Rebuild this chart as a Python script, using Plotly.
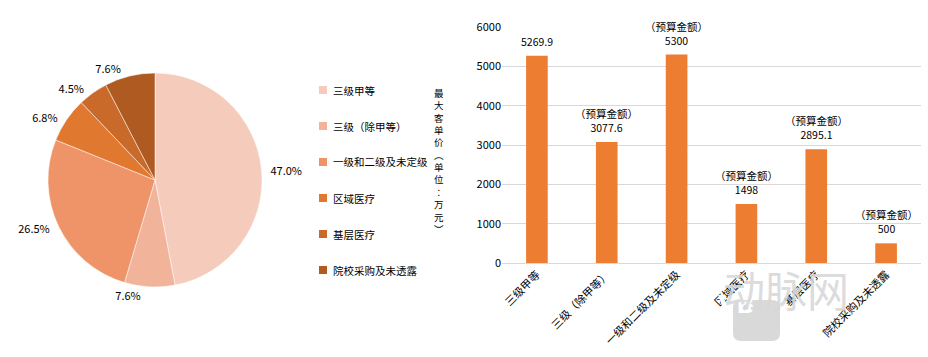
import plotly.graph_objects as go

# ---- data ----
categories = ["三级甲等", "三级（除甲等）", "一级和二级及未定级", "区域医疗", "基层医疗", "院校采购及未透露"]
share_pct = [47.0, 7.6, 26.5, 6.8, 4.5, 7.6]
max_price = [5269.9, 3077.6, 5300, 1498, 2895.1, 500]
price_note = ["", "（预算金额）", "（预算金额）", "（预算金额）", "（预算金额）", "（预算金额）"]
y_ticks = [0, 1000, 2000, 3000, 4000, 5000, 6000]
axis_title = "最大客单价︵单位︰万元︶"

pie_colors = ["#F5CBBC", "#F2B39B", "#EF9468", "#E0782F", "#C96A2A", "#AE5A20"]
bar_color = "#ED7D31"
FONT = "Noto Sans CJK SC"
W, H = 928, 357

fig = go.Figure()

fig.add_trace(go.Pie(
    labels=categories, values=share_pct, sort=False, direction="clockwise", rotation=0,
    marker=dict(colors=pie_colors, line=dict(color="white", width=0.5)),
    texttemplate="\u00a0\u00a0%{value:.1f}%\u00a0\u00a0", textposition="outside",
    textfont=dict(family=FONT, size=11, color="#000"),
    domain=dict(x=[48 / W, 262 / W], y=[1 - 287 / H, 1 - 73 / H]),
    showlegend=False, hoverinfo="label+percent", automargin=False,
))

fig.add_trace(go.Bar(
    x=categories, y=max_price, marker_color=bar_color,
    xaxis="x", yaxis="y", showlegend=False, width=0.31, hoverinfo="x+y",
))

# value labels above bars
for c, v, n in zip(categories, max_price, price_note):
    fig.add_annotation(x=c, y=v, xref="x", yref="y", yanchor="bottom", yshift=6,
                       text=(n + "<br>" if n else "") + f"{v:g}", showarrow=False,
                       borderpad=0, font=dict(family=FONT, size=10.5, color="#000"))

# manual legend built from categories/colors
legend_top = 90
legend_step = 36
for i, (c, col) in enumerate(zip(categories, pie_colors)):
    yc = legend_top + i * legend_step
    fig.add_shape(type="rect", xref="paper", yref="paper",
                  x0=319 / W, x1=327 / W, y0=1 - (yc + 4) / H, y1=1 - (yc - 4) / H,
                  fillcolor=col, line=dict(width=0))
    fig.add_annotation(text=c, xref="paper", yref="paper", x=331 / W, y=1 - yc / H,
                       xanchor="left", yanchor="middle", showarrow=False,
                       font=dict(family=FONT, size=10.5, color="#000"))

fig.add_annotation(text="<br>".join(list(axis_title)), xref="paper", yref="paper",
                   x=439 / W, y=1 - 161 / H, xanchor="center", yanchor="middle",
                   showarrow=False, font=dict(family=FONT, size=9.5, color="#000"))

# watermark (drawn above the tick labels, as in the reference)
x0, x1, y0, y1, r = 733, 780, 300, 341, 8
fig.add_shape(type="path", xref="paper", yref="paper", layer="above",
              path=(f"M {(x0+r)/W},{1-y0/H} L {(x1-r)/W},{1-y0/H} Q {x1/W},{1-y0/H} {x1/W},{1-(y0+r)/H} "
                    f"L {x1/W},{1-(y1-r)/H} Q {x1/W},{1-y1/H} {(x1-r)/W},{1-y1/H} L {(x0+r)/W},{1-y1/H} "
                    f"Q {x0/W},{1-y1/H} {x0/W},{1-(y1-r)/H} L {x0/W},{1-(y0+r)/H} Q {x0/W},{1-y0/H} {(x0+r)/W},{1-y0/H} Z"),
              fillcolor="#D9D9D9", line=dict(width=0))
fig.add_annotation(text="<b>VB</b>", xref="paper", yref="paper", x=756.5 / W, y=1 - 320.5 / H,
                   showarrow=False, font=dict(family="DejaVu Sans", size=24, color="white"))
fig.add_annotation(text="动脉网", xref="paper", yref="paper", x=851 / W, y=1 - 321 / H,
                   showarrow=False, font=dict(family=FONT, size=42, color="rgba(215,215,215,0.9)"))

fig.update_layout(
    template="none",
    width=W, height=H, margin=dict(l=0, r=0, t=0, b=0, autoexpand=False),
    paper_bgcolor="white", plot_bgcolor="white",
    font=dict(family=FONT, size=11, color="#000"),
    bargap=0.69,
    xaxis=dict(domain=[502 / W, 921 / W], anchor="y", tickangle=-45, showline=True,
               linecolor="#D9D9D9", ticks="", showgrid=False, automargin=False,
               tickfont=dict(size=11, color="#000")),
    yaxis=dict(domain=[1 - 263 / H, 1 - 27 / H], anchor="x", range=[0, 6000],
               tickvals=y_ticks, showgrid=True, gridcolor="#D9D9D9", zeroline=False,
               showline=False, automargin=False,
               tickfont=dict(size=11, color="#000"), ticks="", ticklen=0),
)

fig.write_html("out.html", config={"displayModeBar": False},
               post_script="document.body.style.margin='0';document.body.style.overflow='hidden';")
